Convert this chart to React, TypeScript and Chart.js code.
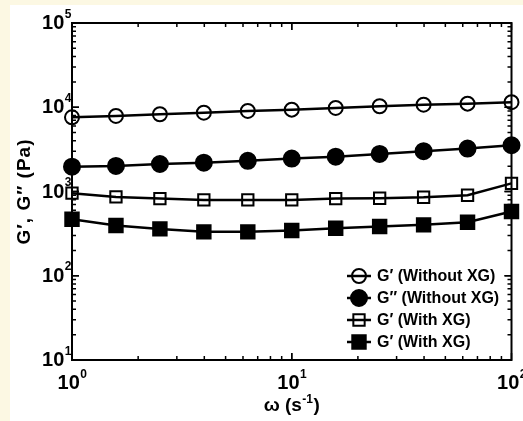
import React, { useEffect, useRef } from 'react';
import { Chart, registerables } from 'chart.js';

Chart.register(...registerables);

// ---- data ----
const omega = [1, 1.585, 2.512, 3.981, 6.31, 10, 15.85, 25.12, 39.81, 63.1, 100];
const gPrimeWithout = [7600, 7890, 8260, 8630, 9040, 9370, 9820, 10280, 10740, 11040, 11480];
const gDoublePrimeWithout = [1970, 2010, 2120, 2200, 2310, 2460, 2590, 2790, 3010, 3230, 3540];
const gPrimeWith = [955, 863, 824, 795, 795, 795, 824, 832, 855, 903, 1250];
const gSecondWith = [469, 394, 360, 332, 332, 344, 367, 384, 402, 432, 578];
const seriesLabels = ['G′ (Without XG)', 'G″ (Without XG)', 'G′ (With XG)', 'G′ (With XG)'];
const xTickExponents = [0, 1, 2];
const yTickExponents = [1, 2, 3, 4, 5];
const xTitle = 'ω (s';
const xTitleSup = '-1';
const xTitleEnd = ')';
const yTitle = 'G′, G″ (Pa)';

const FONT = '"Liberation Sans", Arial, sans-serif';

type MarkerSpec = { style: 'circle' | 'rect'; radius: number; filled: boolean };
const markers: MarkerSpec[] = [
  { style: 'circle', radius: 7, filled: false },
  { style: 'circle', radius: 8, filled: true },
  { style: 'rect', radius: 8, filled: false },
  { style: 'rect', radius: 9.5, filled: true },
];

function drawMarker(ctx: CanvasRenderingContext2D, m: MarkerSpec, x: number, y: number) {
  ctx.save();
  ctx.beginPath();
  if (m.style === 'circle') {
    ctx.arc(x, y, m.radius, 0, Math.PI * 2);
  } else {
    const s = m.radius * Math.SQRT1_2;
    ctx.rect(x - s, y - s, 2 * s, 2 * s);
  }
  if (m.filled) {
    ctx.fillStyle = '#000';
    ctx.fill();
  }
  ctx.lineWidth = 2;
  ctx.strokeStyle = '#000';
  ctx.stroke();
  ctx.restore();
}

function drawPow(
  ctx: CanvasRenderingContext2D,
  exp: number,
  x: number,
  y: number,
  mode: 'x' | 'y'
) {
  const mainFont = `bold 20px ${FONT}`;
  const supFont = `bold 12px ${FONT}`;
  ctx.save();
  ctx.fillStyle = '#000';
  ctx.font = mainFont;
  const w1 = ctx.measureText('10').width;
  ctx.font = supFont;
  const w2 = ctx.measureText(String(exp)).width;
  let left: number;
  let midY: number;
  let supDy: number;
  if (mode === 'y') {
    left = x - w1 - w2;
    midY = y + 0.5;
    supDy = 6;
  } else {
    left = x - (w1 + w2) / 2;
    midY = y;
    supDy = 5.5;
  }
  ctx.font = mainFont;
  ctx.textBaseline = 'middle';
  ctx.textAlign = 'left';
  ctx.fillText('10', left, midY);
  ctx.font = supFont;
  ctx.textBaseline = 'alphabetic';
  ctx.fillText(String(exp), left + w1 + 0.5, midY - supDy);
  ctx.restore();
}

const bgPlugin = {
  id: 'bgPlugin',
  beforeDraw(chart: any) {
    const ctx = chart.ctx as CanvasRenderingContext2D;
    ctx.save();
    ctx.fillStyle = '#fcf8e3';
    ctx.fillRect(0, 0, chart.width, chart.height);
    ctx.fillStyle = '#ffffff';
    ctx.fillRect(10, 5, chart.width - 10, chart.height - 5);
    ctx.restore();
  },
};

const framePlugin = {
  id: 'framePlugin',
  beforeDatasetsDraw(chart: any) {
    const ctx = chart.ctx as CanvasRenderingContext2D;
    const { left, right, top, bottom } = chart.chartArea;
    const xs = chart.scales.x;
    const ys = chart.scales.y;
    ctx.save();
    ctx.strokeStyle = '#000';
    ctx.lineWidth = 1.5;
    const majorLen = 7;
    const minorLen = 4;
    for (let d = 0; d < 2; d++) {
      for (let k = 1; k <= 10; k++) {
        const v = k * Math.pow(10, d);
        const px = xs.getPixelForValue(v);
        const len = k === 1 || k === 10 ? majorLen : minorLen;
        ctx.beginPath();
        ctx.moveTo(px, bottom);
        ctx.lineTo(px, bottom - len);
        ctx.moveTo(px, top);
        ctx.lineTo(px, top + len);
        ctx.stroke();
      }
    }
    for (let d = 1; d < 5; d++) {
      for (let k = 1; k <= 10; k++) {
        const v = k * Math.pow(10, d);
        const py = ys.getPixelForValue(v);
        const len = k === 1 || k === 10 ? majorLen : minorLen;
        ctx.beginPath();
        ctx.moveTo(left, py);
        ctx.lineTo(left + len, py);
        ctx.moveTo(right, py);
        ctx.lineTo(right - len, py);
        ctx.stroke();
      }
    }
    ctx.lineWidth = 2;
    ctx.strokeRect(left, top, right - left, bottom - top);
    ctx.restore();
  },
  afterDraw(chart: any) {
    const ctx = chart.ctx as CanvasRenderingContext2D;
    const { left, right, top, bottom } = chart.chartArea;
    const xs = chart.scales.x;
    const ys = chart.scales.y;

    yTickExponents.forEach((e) => {
      const py = ys.getPixelForValue(Math.pow(10, e));
      drawPow(ctx, e, left - 1, py, 'y');
    });
    xTickExponents.forEach((e) => {
      const px = xs.getPixelForValue(Math.pow(10, e));
      drawPow(ctx, e, px, bottom + 23.5, 'x');
    });

    // x title
    ctx.save();
    ctx.fillStyle = '#000';
    const mainF = `bold 19px ${FONT}`;
    const supF = `bold 12px ${FONT}`;
    ctx.font = mainF;
    const a = ctx.measureText(xTitle).width;
    const c = ctx.measureText(xTitleEnd).width;
    ctx.font = supF;
    const b = ctx.measureText(xTitleSup).width;
    const total = a + b + c + 1;
    const cx = (left + right) / 2;
    const sx = cx - total / 2;
    const ty = 406;
    ctx.textBaseline = 'middle';
    ctx.textAlign = 'left';
    ctx.font = mainF;
    ctx.fillText(xTitle, sx, ty);
    ctx.font = supF;
    ctx.textBaseline = 'alphabetic';
    ctx.fillText(xTitleSup, sx + a + 0.5, ty - 3);
    ctx.font = mainF;
    ctx.textBaseline = 'middle';
    ctx.fillText(xTitleEnd, sx + a + b + 1, ty);
    ctx.restore();

    // y title
    ctx.save();
    ctx.fillStyle = '#000';
    ctx.font = `bold 19px ${FONT}`;
    ctx.translate(25, (top + bottom) / 2);
    ctx.rotate(-Math.PI / 2);
    ctx.textAlign = 'center';
    ctx.textBaseline = 'middle';
    (ctx as any).letterSpacing = '1px';
    ctx.fillText(yTitle, 0, 0);
    ctx.restore();

    // legend
    ctx.save();
    const lx = 342;
    const ly = 262;
    ctx.fillStyle = '#fff';
    ctx.fillRect(lx, ly, 161, 90);
    const rowY = [276, 298, 320, 342];
    ctx.font = `bold 16px ${FONT}`;
    ctx.textBaseline = 'middle';
    ctx.textAlign = 'left';
    seriesLabels.forEach((lab, i) => {
      const y = rowY[i];
      ctx.strokeStyle = '#000';
      ctx.lineWidth = 2.5;
      ctx.beginPath();
      ctx.moveTo(347, y);
      ctx.lineTo(371, y);
      ctx.stroke();
      drawMarker(ctx, markers[i], 359, y);
      ctx.fillStyle = '#000';
      ctx.fillText(lab, 377, y + 1);
    });
    ctx.restore();
  },
};

function makeDataset(label: string, values: number[], m: MarkerSpec) {
  return {
    label,
    data: omega.map((x, i) => ({ x, y: values[i] })),
    borderColor: '#000',
    borderWidth: 2.5,
    backgroundColor: m.filled ? '#000' : 'rgba(0,0,0,0)',
    pointStyle: m.style,
    pointRadius: m.radius,
    pointBorderWidth: 2,
    pointBorderColor: '#000',
    pointBackgroundColor: m.filled ? '#000' : 'rgba(0,0,0,0)',
    tension: 0,
    fill: false,
    clip: false as any,
  };
}

export default function App() {
  const ref = useRef<HTMLCanvasElement>(null);
  useEffect(() => {
    document.body.style.margin = '0';
    const canvas = ref.current!;
    const chart = new Chart(canvas, {
      type: 'line',
      data: {
        datasets: [
          makeDataset(seriesLabels[0], gPrimeWithout, markers[0]),
          makeDataset(seriesLabels[1], gDoublePrimeWithout, markers[1]),
          makeDataset(seriesLabels[2], gPrimeWith, markers[2]),
          makeDataset(seriesLabels[3], gSecondWith, markers[3]),
        ] as any,
      },
      options: {
        animation: false,
        responsive: false,
        maintainAspectRatio: false,
        devicePixelRatio: 1,
        layout: { padding: { left: 72, top: 23, right: 11, bottom: 61 } },
        plugins: { legend: { display: false }, tooltip: { enabled: false } },
        scales: {
          x: {
            type: 'logarithmic',
            min: 1,
            max: 100,
            ticks: { display: false },
            grid: { display: false },
            border: { display: false },
            afterFit: (s: any) => {
              s.height = 0;
            },
          },
          y: {
            type: 'logarithmic',
            min: 10,
            max: 100000,
            ticks: { display: false },
            grid: { display: false },
            border: { display: false },
            afterFit: (s: any) => {
              s.width = 0;
            },
          },
        },
      } as any,
      plugins: [bgPlugin, framePlugin],
    });
    return () => chart.destroy();
  }, []);
  return <canvas ref={ref} width={523} height={421} style={{ display: 'block' }} />;
}
